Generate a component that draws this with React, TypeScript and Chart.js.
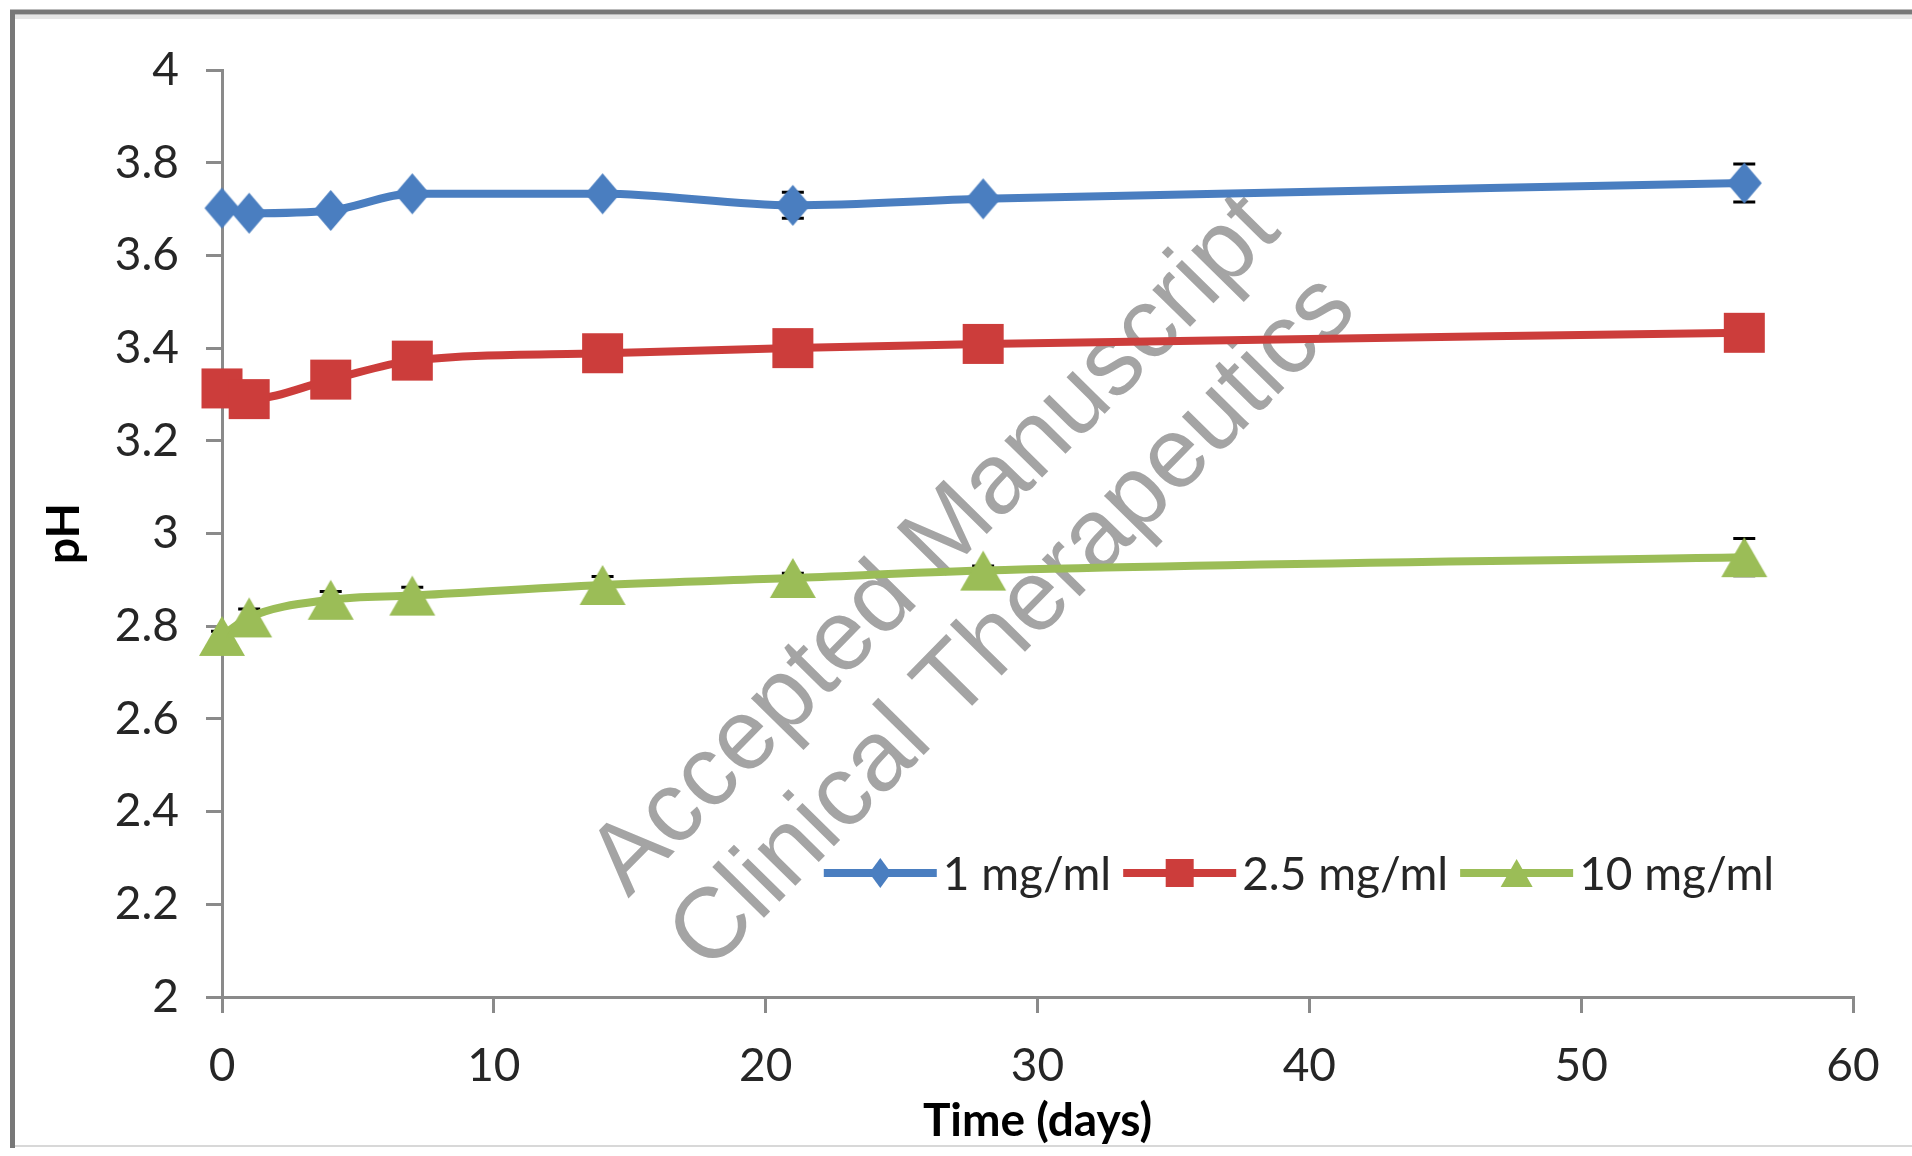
import React, { useEffect, useRef } from "react";
import { Chart, registerables } from "chart.js";

Chart.register(...registerables);

// ---- data ----
const days = [0, 1, 4, 7, 14, 21, 28, 56];
const ph1mg = [3.702, 3.691, 3.697, 3.733, 3.733, 3.708, 3.722, 3.756];
const ph25mg = [3.313, 3.29, 3.332, 3.373, 3.389, 3.4, 3.409, 3.433];
const ph10mg = [2.779, 2.819, 2.857, 2.866, 2.889, 2.904, 2.92, 2.949];
const err1mg = [0.01, 0.01, 0.01, 0.01, 0.01, 0.028, 0.01, 0.041];
const err25mg = [0.01, 0.012, 0.01, 0.01, 0.01, 0.01, 0.01, 0.01];
const err10mg = [0.01, 0.018, 0.018, 0.018, 0.018, 0.01, 0.01, 0.04];
const seriesLabels = ["1 mg/ml", "2.5 mg/ml", "10 mg/ml"];
const xTicks = [0, 10, 20, 30, 40, 50, 60];
const yTicks = [2, 2.2, 2.4, 2.6, 2.8, 3, 3.2, 3.4, 3.6, 3.8, 4];
const xTitle = "Time (days)";
const yTitle = "pH";
const watermarkLines = ["Accepted Manuscript", "Clinical Therapeutics"];

const seriesValues = [ph1mg, ph25mg, ph10mg];
const seriesErrors = [err1mg, err25mg, err10mg];
const seriesColors = ["#4a7ec0", "#cc3d3b", "#9bbd57"];
const seriesShapes = ["diamond", "square", "triangle"];
// marker box sizes [width, height]
const markerSizes = [
  [35, 41],
  [41, 40],
  [46, 40],
];
const legendSizes = [
  [22, 30],
  [28, 28],
  [32, 28],
];

const FONT = "Lato";
const TICK_COLOR = "#262626";
const AXIS_COLOR = "#8a8a8a";

function traceShape(ctx, shape, cx, cy, w, h) {
  ctx.beginPath();
  if (shape === "diamond") {
    ctx.moveTo(cx, cy - h / 2);
    ctx.lineTo(cx + w / 2, cy);
    ctx.lineTo(cx, cy + h / 2);
    ctx.lineTo(cx - w / 2, cy);
  } else if (shape === "square") {
    ctx.rect(cx - w / 2, cy - h / 2, w, h);
  } else {
    ctx.moveTo(cx, cy - h / 2);
    ctx.lineTo(cx + w / 2, cy + h / 2);
    ctx.lineTo(cx - w / 2, cy + h / 2);
  }
  ctx.closePath();
}

function makeMarker(shape, w, h, color) {
  const c = document.createElement("canvas");
  c.width = w + 2;
  c.height = h + 2;
  const ctx = c.getContext("2d");
  ctx.fillStyle = color;
  traceShape(ctx, shape, c.width / 2, c.height / 2, w, h);
  ctx.fill();
  return c;
}

const framePlugin = {
  id: "frame",
  beforeDraw(chart) {
    const ctx = chart.ctx;
    ctx.save();
    ctx.fillStyle = "#ffffff";
    ctx.fillRect(0, 0, chart.width, chart.height);
    ctx.strokeStyle = "#d8d8d8";
    ctx.lineWidth = 2;
    ctx.beginPath();
    ctx.moveTo(10, 1146);
    ctx.lineTo(1912, 1146);
    ctx.stroke();
    ctx.strokeStyle = "#e6e6e6";
    ctx.lineWidth = 4;
    ctx.beginPath();
    ctx.moveTo(14, 17);
    ctx.lineTo(1912, 17);
    ctx.stroke();
    ctx.strokeStyle = "#787878";
    ctx.lineWidth = 5;
    ctx.beginPath();
    ctx.moveTo(12.5, 1148);
    ctx.lineTo(12.5, 12);
    ctx.lineTo(1912, 12);
    ctx.stroke();
    ctx.restore();
  },
};

const watermarkPlugin = {
  id: "watermark",
  beforeDatasetsDraw(chart) {
    const ctx = chart.ctx;
    ctx.save();
    ctx.translate(975, 585);
    ctx.rotate((-45.5 * Math.PI) / 180);
    ctx.font = '100px "Liberation Sans", Arial, sans-serif';
    ctx.fillStyle = "#a4a4a4";
    ctx.textAlign = "center";
    ctx.textBaseline = "middle";
    ctx.fillText(watermarkLines[0], 0, -55);
    ctx.fillText(watermarkLines[1], 0, 55);
    ctx.restore();
  },
};

const errorBarPlugin = {
  id: "errorBars",
  beforeDatasetDraw(chart, args) {
    const ctx = chart.ctx;
    const errs = seriesErrors[args.index];
    const vals = seriesValues[args.index];
    const ys = chart.scales.y;
    ctx.save();
    ctx.strokeStyle = "#000000";
    ctx.lineWidth = 3;
    args.meta.data.forEach((pt, i) => {
      const x = pt.x;
      const yTop = ys.getPixelForValue(vals[i] + errs[i]);
      const yBot = ys.getPixelForValue(vals[i] - errs[i]);
      ctx.beginPath();
      ctx.moveTo(x, yTop);
      ctx.lineTo(x, yBot);
      ctx.moveTo(x - 11, yTop);
      ctx.lineTo(x + 11, yTop);
      ctx.moveTo(x - 11, yBot);
      ctx.lineTo(x + 11, yBot);
      ctx.stroke();
    });
    ctx.restore();
  },
};

const legendPlugin = {
  id: "customLegend",
  afterDraw(chart) {
    const ctx = chart.ctx;
    ctx.save();
    ctx.font = `46px ${FONT}`;
    const lineLen = 113;
    const gapText = 6;
    const gapItem = 12;
    const widths = seriesLabels.map((t) => ctx.measureText(t).width);
    const total =
      widths.reduce((a, w) => a + lineLen + gapText + w, 0) + gapItem * (seriesLabels.length - 1);
    let x = 1299 - total / 2;
    const y = 873;
    seriesLabels.forEach((label, i) => {
      ctx.strokeStyle = seriesColors[i];
      ctx.lineWidth = 8;
      ctx.beginPath();
      ctx.moveTo(x, y);
      ctx.lineTo(x + lineLen, y);
      ctx.stroke();
      ctx.fillStyle = seriesColors[i];
      traceShape(ctx, seriesShapes[i], x + lineLen / 2, y, legendSizes[i][0], legendSizes[i][1]);
      ctx.fill();
      ctx.fillStyle = TICK_COLOR;
      ctx.textAlign = "left";
      ctx.textBaseline = "middle";
      ctx.fillText(label, x + lineLen + gapText, y + 2);
      x += lineLen + gapText + widths[i] + gapItem;
    });
    ctx.restore();
  },
};

export default function App() {
  const canvasRef = useRef(null);

  useEffect(() => {
    const canvas = canvasRef.current;
    if (!canvas) return;
    const datasets = seriesLabels.map((label, i) => ({
      label,
      data: days.map((d, j) => ({ x: d, y: seriesValues[i][j] })),
      borderColor: seriesColors[i],
      backgroundColor: seriesColors[i],
      pointBackgroundColor: seriesColors[i],
      pointBorderColor: seriesColors[i],
      pointStyle: makeMarker(seriesShapes[i], markerSizes[i][0], markerSizes[i][1], seriesColors[i]),
      pointRadius: 20,
      borderWidth: 8,
      cubicInterpolationMode: "monotone",
      clip: false,
      fill: false,
    }));

    const chart = new Chart(canvas, {
      type: "line",
      data: { datasets },
      plugins: [framePlugin, watermarkPlugin, errorBarPlugin, legendPlugin],
      options: {
        responsive: false,
        animation: false,
        devicePixelRatio: 1,
        layout: { padding: { top: 70, right: 59, left: 0, bottom: 0 } },
        plugins: {
          legend: { display: false },
          tooltip: { enabled: false },
        },
        scales: {
          x: {
            type: "linear",
            min: 0,
            max: 60,
            afterBuildTicks: (scale) => {
              scale.ticks = xTicks.map((v) => ({ value: v }));
            },
            afterFit: (scale) => {
              scale.height = 159;
            },
            ticks: {
              font: { family: FONT, size: 46 },
              color: TICK_COLOR,
              padding: 26,
              maxRotation: 0,
              callback: (v) => String(v),
            },
            grid: {
              drawOnChartArea: false,
              drawTicks: true,
              tickLength: 16,
              color: AXIS_COLOR,
              lineWidth: 3,
            },
            border: { display: true, color: AXIS_COLOR, width: 3 },
            title: {
              display: true,
              text: xTitle,
              font: { family: FONT, size: 46, weight: "bold" },
              color: "#000000",
              padding: { top: 0, bottom: 7 },
            },
          },
          y: {
            type: "linear",
            min: 2,
            max: 4,
            afterBuildTicks: (scale) => {
              scale.ticks = yTicks.map((v) => ({ value: v }));
            },
            afterFit: (scale) => {
              scale.width = 222;
            },
            ticks: {
              font: { family: FONT, size: 46 },
              color: TICK_COLOR,
              padding: 27,
              callback: (v) => String(Number(Number(v).toFixed(1))),
            },
            grid: {
              drawOnChartArea: false,
              drawTicks: true,
              tickLength: 16,
              color: AXIS_COLOR,
              lineWidth: 3,
            },
            border: { display: true, color: AXIS_COLOR, width: 3 },
            title: {
              display: true,
              text: yTitle,
              font: { family: FONT, size: 46, weight: "bold" },
              color: "#000000",
              padding: { top: 37, bottom: 0 },
            },
          },
        },
      },
    });

    return () => {
      chart.destroy();
    };
  }, []);

  return (
    <div
      style={{
        position: "fixed",
        left: 0,
        top: 0,
        width: 1912,
        height: 1156,
        background: "#ffffff",
      }}
    >
      <canvas ref={canvasRef} width={1912} height={1156} style={{ display: "block" }} />
    </div>
  );
}
